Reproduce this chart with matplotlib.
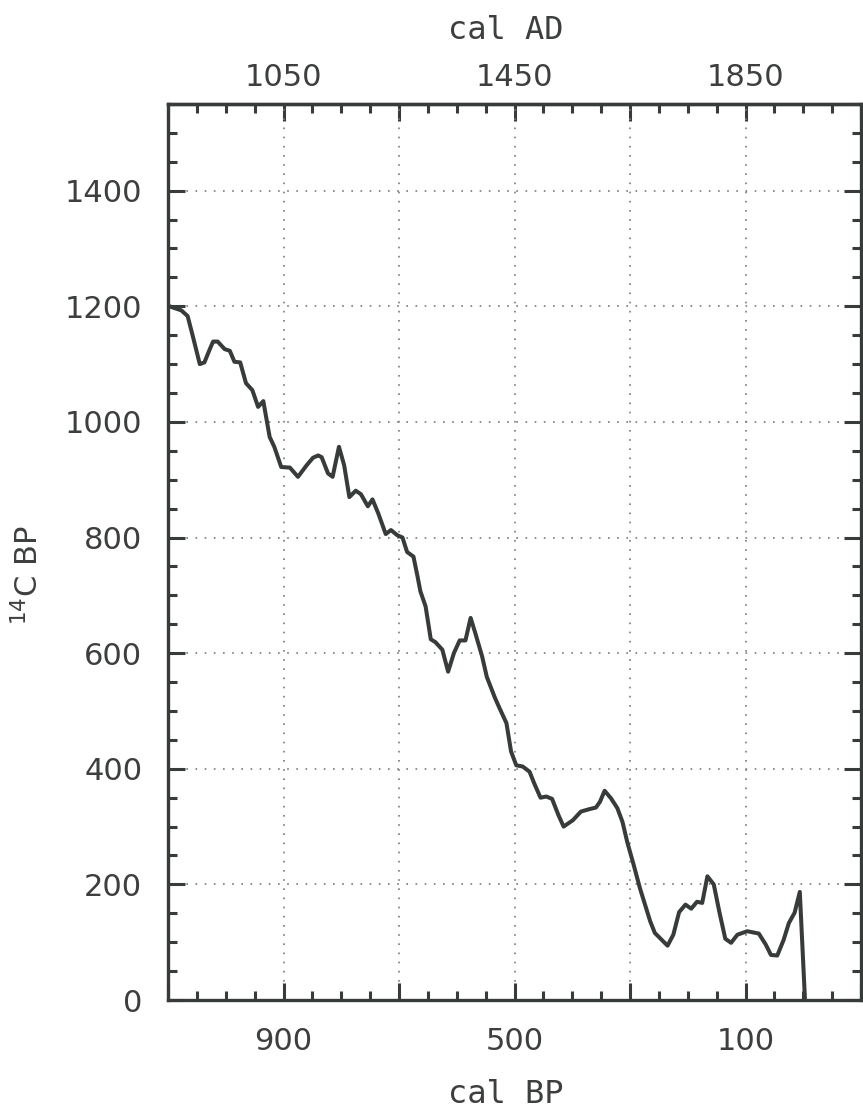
import matplotlib.pyplot as plt
from matplotlib.ticker import MultipleLocator

plt.rcParams['mathtext.default'] = 'regular'

# calibrated age (cal BP) and radiocarbon age (14C BP)
cal_bp = [1100, 1089, 1077, 1066, 1057, 1045, 1037, 1028, 1022, 1014, 1002, 993,
          985, 975, 965, 954, 944, 935, 924, 916, 904, 889, 875, 860, 849, 840,
          834, 823, 815, 804, 795, 786, 775, 766, 754, 746, 736, 723, 714, 703,
          694, 686, 675, 668, 663, 654, 645, 637, 625, 615, 605, 595, 585, 576,
          568, 556, 548, 534, 526, 514, 506, 497, 486, 474, 466, 455, 445, 435,
          424, 415, 399, 385, 371, 359, 352, 344, 333, 322, 313, 305, 294, 283,
          274, 265, 257, 245, 235, 225, 215, 204, 194, 184, 175, 166, 155, 145,
          135, 125, 114, 97, 77, 65, 56, 45, 34, 25, 15, 6, -3]
c14_bp = [1201, 1197, 1193, 1183, 1148, 1100, 1103, 1125, 1139, 1139, 1126, 1123,
          1104, 1103, 1067, 1055, 1026, 1036, 974, 957, 922, 921, 905, 925, 938, 942,
          939, 911, 905, 957, 925, 870, 881, 875, 854, 866, 842, 806, 813, 804,
          800, 775, 767, 733, 707, 681, 624, 619, 606, 568, 600, 622, 622, 661,
          635, 594, 559, 523, 505, 479, 430, 406, 404, 395, 375, 350, 352, 348,
          320, 300, 311, 326, 330, 333, 343, 362, 349, 332, 308, 274, 235, 194,
          165, 136, 116, 104, 94, 113, 152, 165, 158, 170, 168, 214, 200, 151,
          106, 99, 113, 119, 115, 96, 78, 77, 104, 133, 151, 187, 0]

bp_ticks = [1100, 900, 700, 500, 300, 100, -100]
bp_labels = ['', '900', '', '500', '', '100', '']
ad_ticks = [850, 1050, 1250, 1450, 1650, 1850, 2050]
ad_labels = ['', '1050', '', '1450', '', '1850', '']
c14_ticks = [0, 200, 400, 600, 800, 1000, 1200, 1400]

ink = '#373b39'
txt = '#3c3f3e'

fig = plt.figure(figsize=(8.63, 11.12), dpi=100)
ax = fig.add_axes([0.1947, 0.1007, 0.8030, 0.8058])
ax.plot(cal_bp, c14_bp, color=ink, lw=2.9, solid_joinstyle='round')

ax.set_xlim(1100, -100)
ax.set_ylim(0, 1550)
ax.set_xticks(bp_ticks, bp_labels)
ax.set_yticks(c14_ticks)
ax.xaxis.set_minor_locator(MultipleLocator(50))
ax.yaxis.set_minor_locator(MultipleLocator(50))
ax.grid(True, which='major', linestyle=(0, (1, 4.5)), linewidth=1.2, color='#7a7a7a')

ax.tick_params(which='both', direction='in', right=True, top=False,
               width=2.2, color=ink, labelcolor=txt)
ax.tick_params(which='major', length=12, labelsize=22)
ax.tick_params(axis='x', which='major', pad=19.5)
ax.tick_params(axis='y', which='major', pad=18.5)
ax.tick_params(which='minor', length=6.5)
for sp in ax.spines.values():
    sp.set_linewidth(2.4)
    sp.set_color(ink)

secax = ax.secondary_xaxis('top', functions=(lambda x: 1950 - x, lambda x: 1950 - x))
secax.set_xticks(ad_ticks, ad_labels)
secax.xaxis.set_minor_locator(MultipleLocator(50))
secax.tick_params(which='both', direction='in', width=2.2, color=ink, labelcolor=txt)
secax.tick_params(which='major', length=12, labelsize=22, pad=8.6)
secax.tick_params(which='minor', length=6.5)
secax.spines['top'].set_linewidth(2.4)
secax.spines['top'].set_color(ink)

fig.text(506 / 863, 1 - 1103 / 1112, 'cal BP', family='DejaVu Sans Mono',
         fontsize=23, color=txt, ha='center', va='baseline')
fig.text(506 / 863, 1 - 39 / 1112, 'cal AD', family='DejaVu Sans Mono',
         fontsize=23, color=txt, ha='center', va='baseline')
fig.text(28 / 863, 1 - 575 / 1112, r'$^{14}$C BP', fontsize=22, color=txt,
         rotation=90, ha='center', va='center')

fig.savefig('out.png', dpi=100)
